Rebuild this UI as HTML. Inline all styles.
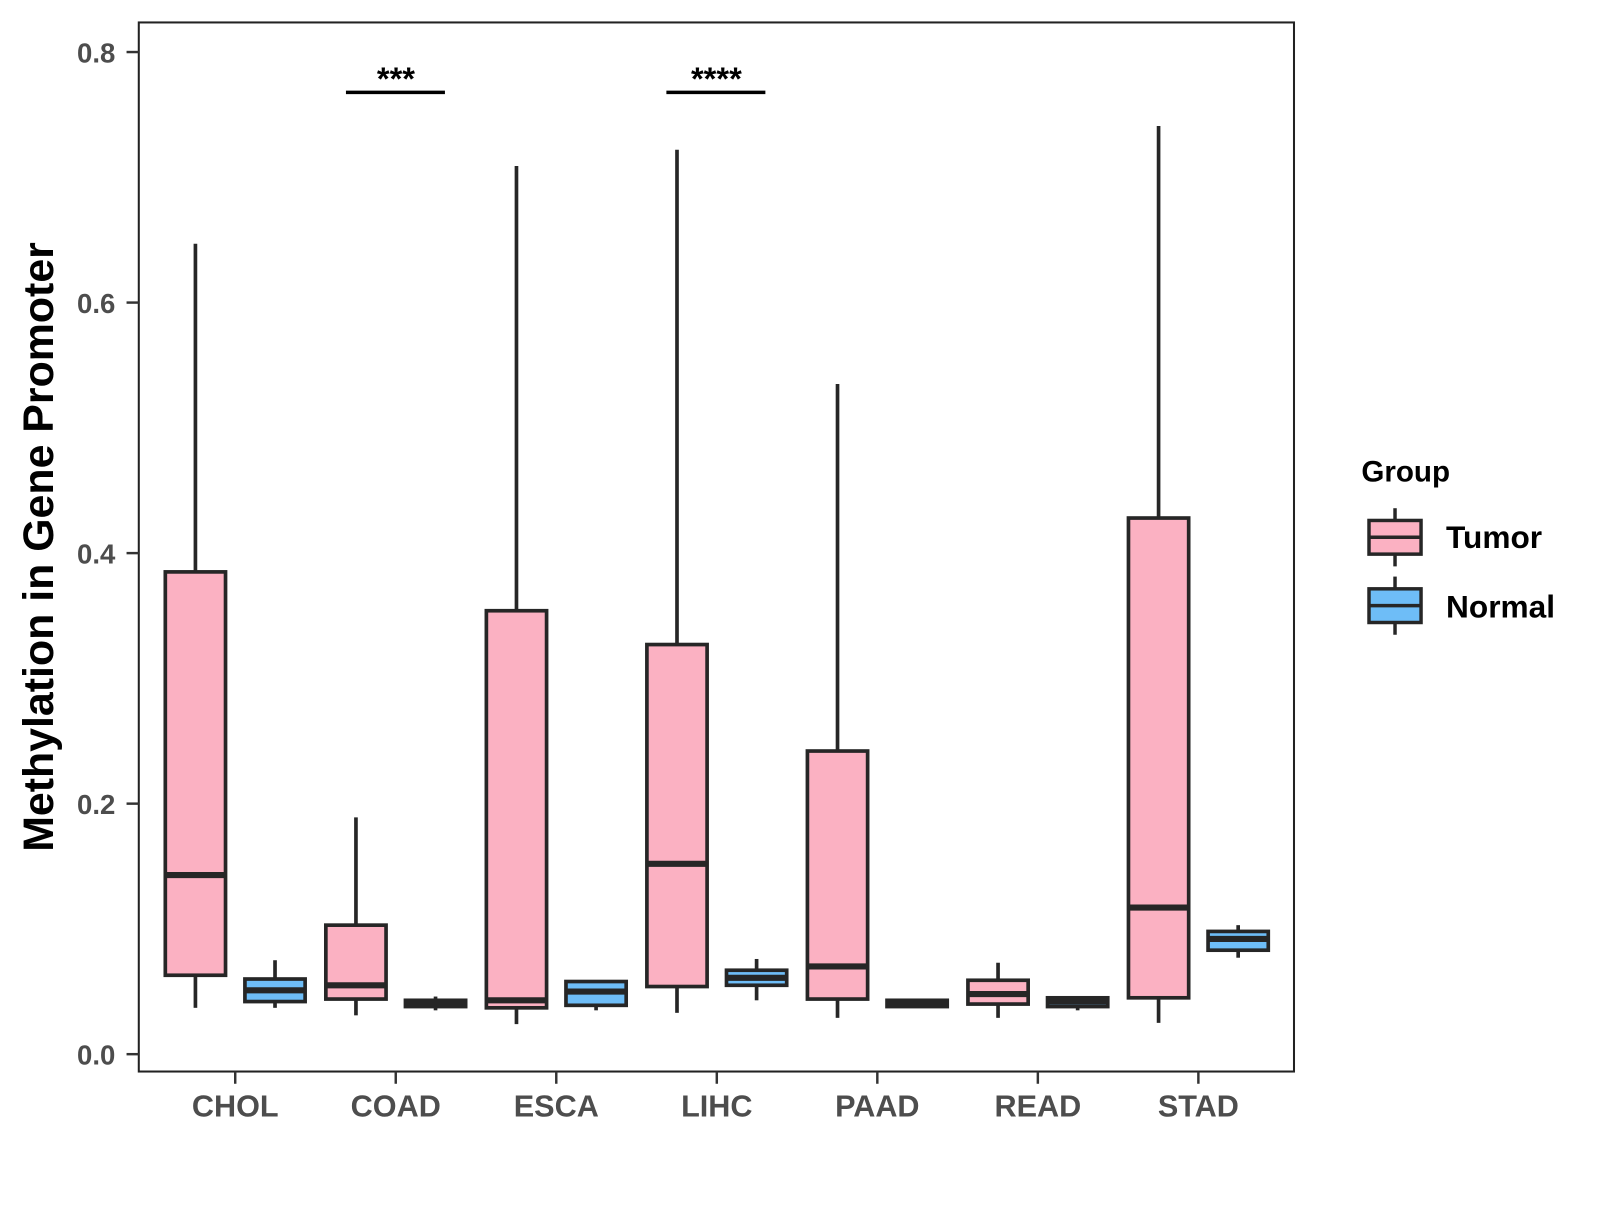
<!DOCTYPE html>
<html><head><meta charset="utf-8"><style>
body{margin:0;background:#fff;}
svg text{font-family:"Liberation Sans",Arial,sans-serif;font-weight:bold;}
</style></head><body>
<svg id="chart" width="1600" height="1200" xmlns="http://www.w3.org/2000/svg">
<g transform="scale(1.0205)">
<rect x="136" y="22" width="1132" height="1028" fill="#fff" stroke="#222" stroke-width="2"/>
<g id="yaxis"></g>
<g id="xaxis"></g>
<g id="boxes"></g>
<text x="52" y="536" transform="rotate(-90 52 536)" text-anchor="middle" font-size="42" fill="#000">Methylation in Gene Promoter</text>
<g>
<line x1="339" y1="90.5" x2="436" y2="90.5" stroke="#000" stroke-width="3.4"/>
<text x="388" y="88" text-anchor="middle" font-size="32" fill="#000">***</text></g>
<g>
<line x1="653" y1="90.5" x2="750" y2="90.5" stroke="#000" stroke-width="3.4"/>
<text x="702" y="88" text-anchor="middle" font-size="32" fill="#000">****</text></g>
<g>
<text x="1334" y="472" font-size="29" fill="#000">Group</text>
<g>
<line x1="1367" y1="498" x2="1367" y2="555" stroke="#262626" stroke-width="3.4"/>
<rect x="1341.5" y="510" width="51" height="33" fill="#FBB1C2" stroke="#262626" stroke-width="3.4"/>
<line x1="1341" y1="526.5" x2="1393" y2="526.5" stroke="#262626" stroke-width="3.4"/>
<text x="1417" y="537" font-size="31" fill="#000">Tumor</text></g>
<g>
<line x1="1367" y1="565" x2="1367" y2="622" stroke="#262626" stroke-width="3.4"/>
<rect x="1341.5" y="577" width="51" height="33" fill="#6EBDF7" stroke="#262626" stroke-width="3.4"/>
<line x1="1341" y1="593.5" x2="1393" y2="593.5" stroke="#262626" stroke-width="3.4"/>
<text x="1417" y="605" font-size="31" fill="#000">Normal</text></g>
</g>
</g>
</svg>
<script>
const categories=["CHOL","COAD","ESCA","LIHC","PAAD","READ","STAD"];
const yTicks=[0,0.2,0.4,0.6,0.8];
const yTickLabels=["0.0","0.2","0.4","0.6","0.8"];
// [lower whisker, Q1, median, Q3, upper whisker]
const tumorStats=[
[0.037,0.063,0.143,0.385,0.647],
[0.031,0.044,0.055,0.103,0.189],
[0.024,0.037,0.043,0.354,0.709],
[0.033,0.054,0.152,0.327,0.722],
[0.029,0.044,0.070,0.242,0.535],
[0.029,0.040,0.048,0.059,0.073],
[0.025,0.045,0.117,0.428,0.741]];
const normalStats=[
[0.037,0.042,0.051,0.060,0.075],
[0.035,0.038,0.040,0.043,0.046],
[0.035,0.039,0.050,0.058,0.059],
[0.043,0.055,0.061,0.067,0.076],
[0.037,0.038,0.041,0.043,0.044],
[0.035,0.038,0.042,0.045,0.046],
[0.077,0.083,0.092,0.098,0.103]];
const NS="http://www.w3.org/2000/svg";
const y=v=>1033-v*1227.5;
const xc=i=>230.5+i*157.3;
function mk(t,a,p){const e=document.createElementNS(NS,t);for(const k in a)e.setAttribute(k,a[k]);p.appendChild(e);return e;}
const ya=document.getElementById('yaxis');
yTicks.forEach((v,i)=>{
 const l=mk('line',{x1:124,x2:136,y1:y(v),y2:y(v),stroke:'#333','stroke-width':2.4},ya);
 
 
 const t=mk('text',{x:113,y:y(v)+10,'text-anchor':'end','font-size':27,fill:'#4d4d4d'},ya);
 t.textContent=yTickLabels[i];
 
 
});
const xa=document.getElementById('xaxis');
categories.forEach((c,i)=>{
 const l=mk('line',{x1:xc(i),x2:xc(i),y1:1050,y2:1062,stroke:'#333','stroke-width':2.4},xa);
 
 
 const t=mk('text',{x:xc(i),y:1094,'text-anchor':'middle','font-size':30,fill:'#4d4d4d'},xa);
 t.textContent=c;
 
 
});
const bx=document.getElementById('boxes');
function box(s,cx,fill,name){
 const g=mk('g',{},bx);
 
 
 const st={stroke:'#262626','stroke-width':3.6};
 mk('line',Object.assign({x1:cx,x2:cx,y1:y(s[0]),y2:y(s[1])},st),g);
 mk('line',Object.assign({x1:cx,x2:cx,y1:y(s[3]),y2:y(s[4])},st),g);
 mk('rect',Object.assign({x:cx-29.5,y:y(s[3]),width:59,height:Math.max(1,y(s[1])-y(s[3])),fill:fill},st),g);
 mk('line',{x1:cx-29.5,x2:cx+29.5,y1:y(s[2]),y2:y(s[2]),stroke:'#262626','stroke-width':6},g);
}
categories.forEach((c,i)=>{
 box(tumorStats[i],xc(i)-39,'#FBB1C2','box-tumor-'+c.toLowerCase());
 box(normalStats[i],xc(i)+39,'#6EBDF7','box-normal-'+c.toLowerCase());
});
</script>
</body></html>
